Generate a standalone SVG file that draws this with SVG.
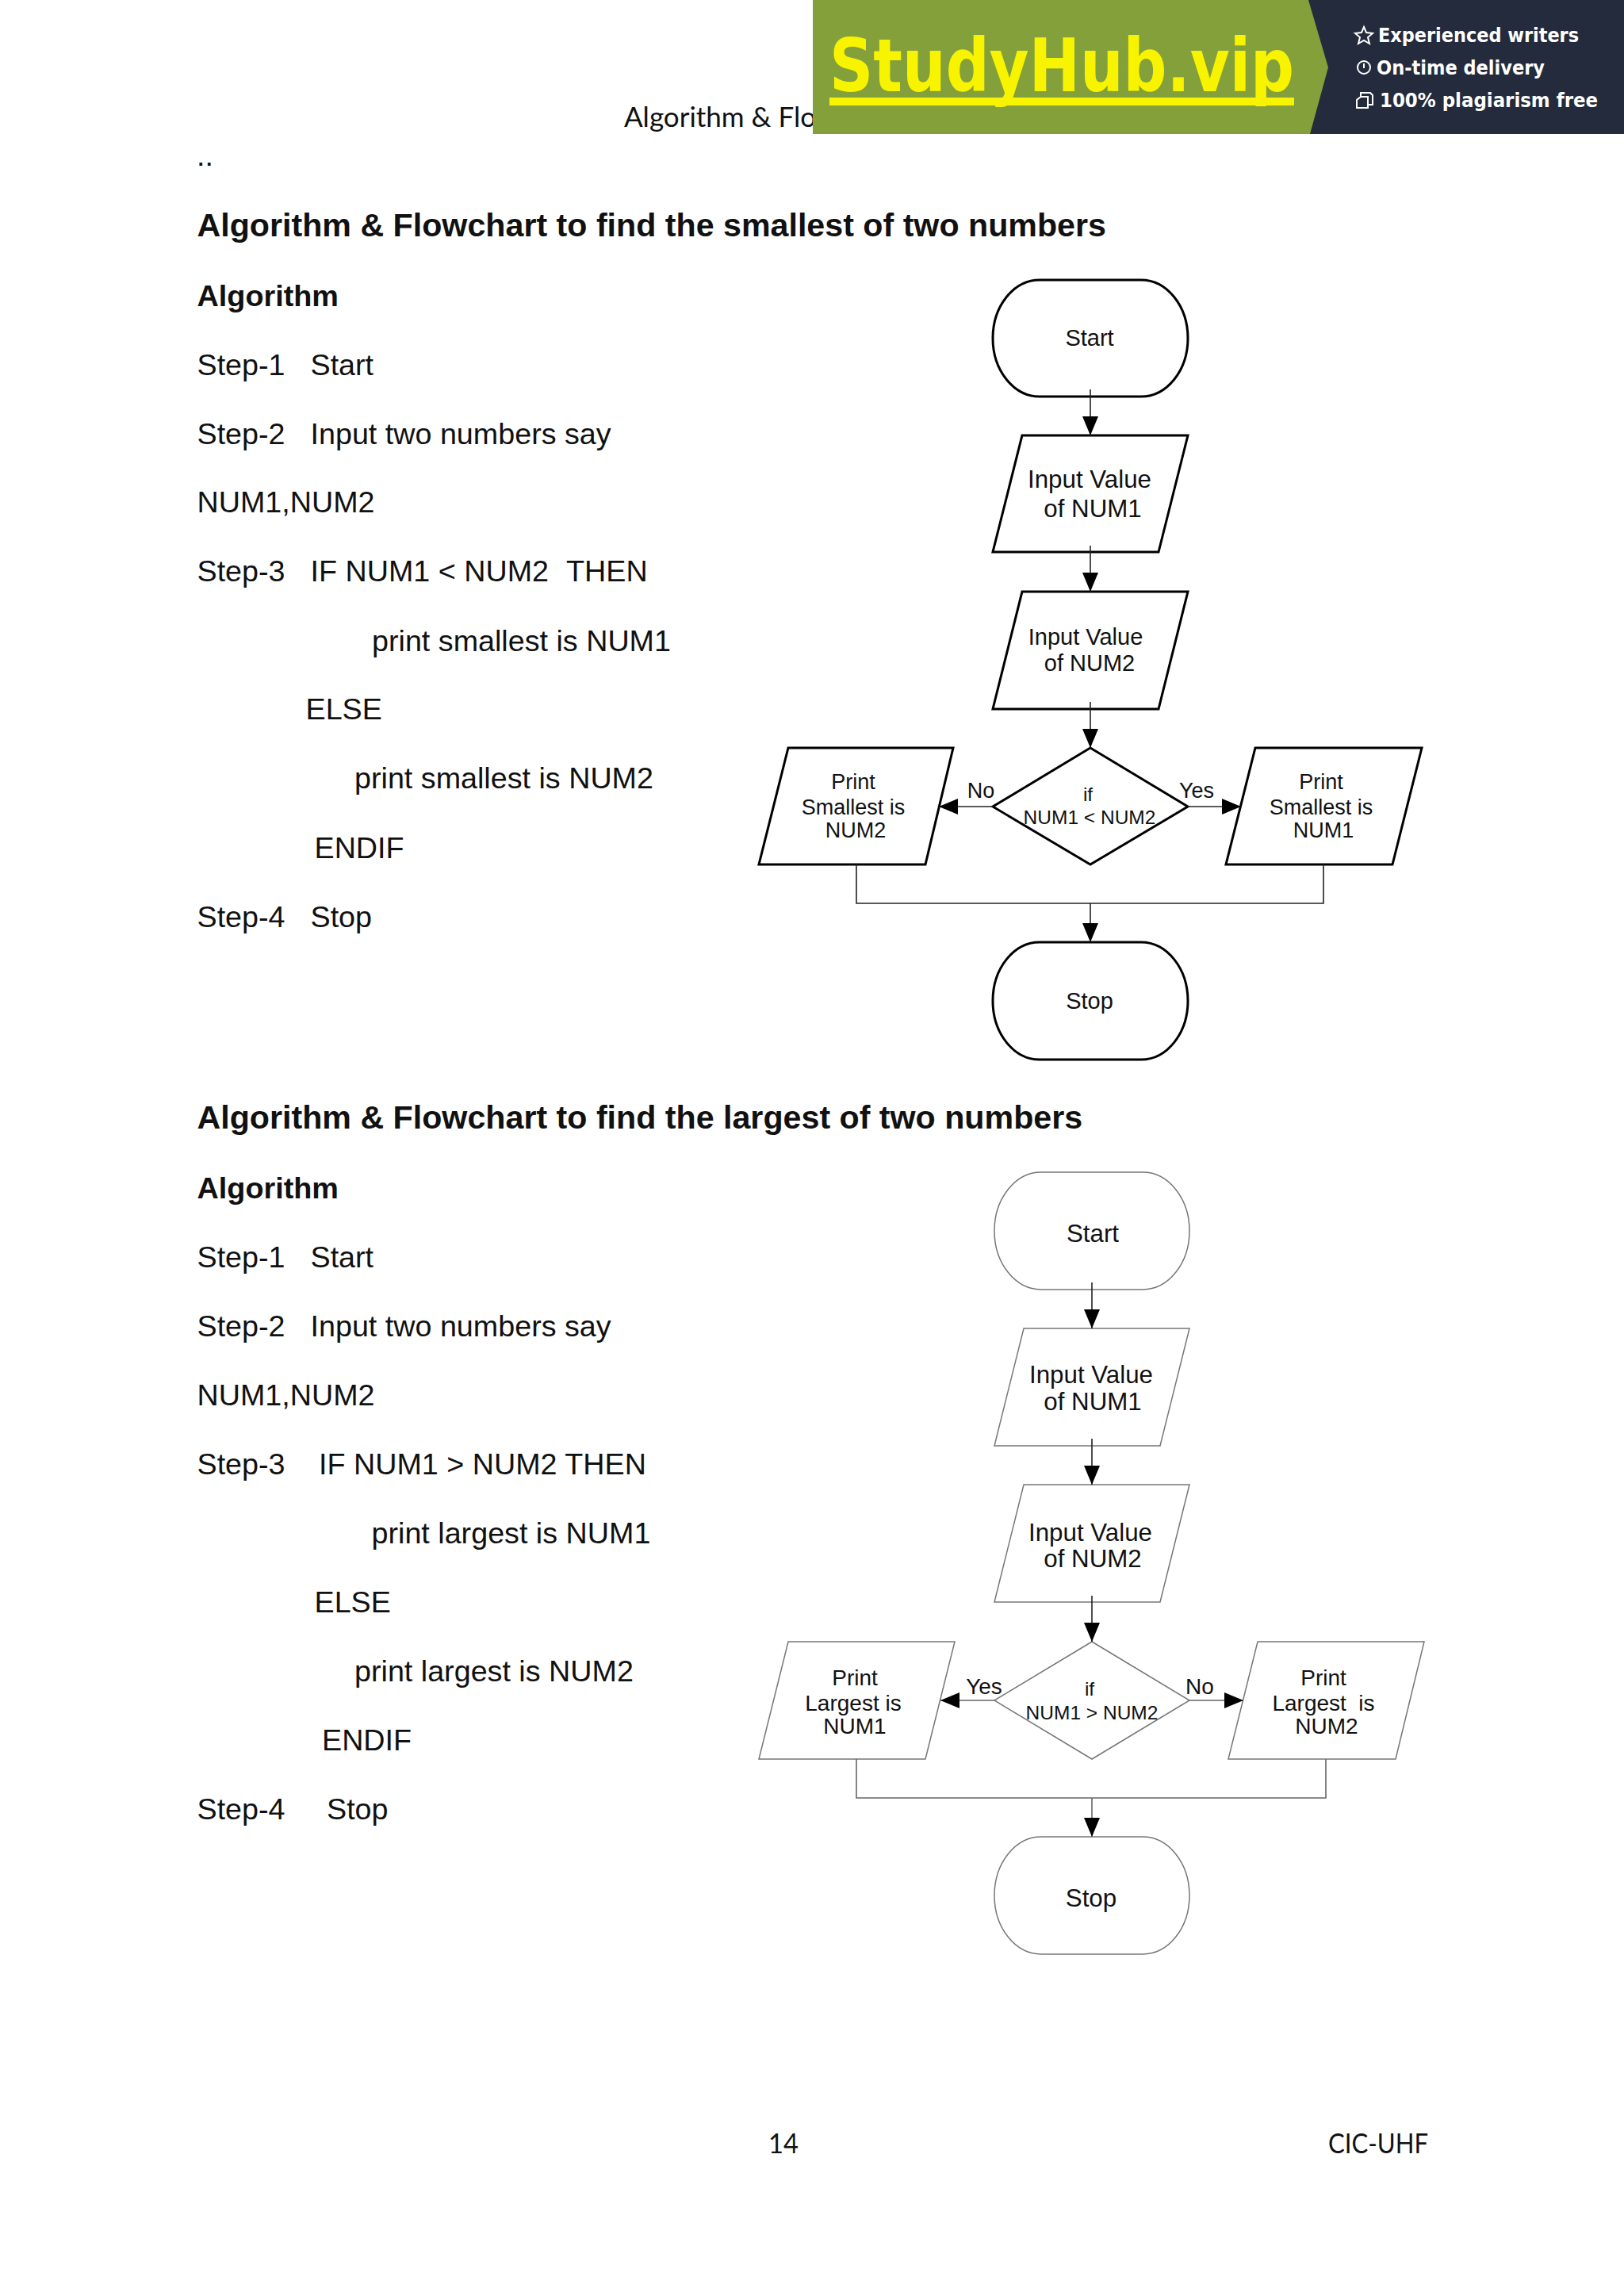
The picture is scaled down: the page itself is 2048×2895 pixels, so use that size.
<svg xmlns="http://www.w3.org/2000/svg" width="2048" height="2895" viewBox="0 0 2048 2895">
<style>
text{font-family:"Liberation Sans",Arial,sans-serif;fill:#111}
.h{font-size:41.2px;font-weight:700}
.b{font-size:37.7px}
.bb{font-size:37.8px;font-weight:700}
.c{font-family:Lato,"Open Sans",sans-serif;font-size:35px}
.n{font-size:29px;text-anchor:middle}
.s{font-size:27px;text-anchor:middle}
.d{font-size:24.5px;text-anchor:middle}
.n2{font-size:31.3px;text-anchor:middle}
.s2{font-size:28px;text-anchor:middle}
.k1{fill:#fff;stroke:#000;stroke-width:3}
.k2{fill:#fff;stroke:#777;stroke-width:1.5}
.l1{fill:none;stroke:#222;stroke-width:1.6}
.l2{fill:none;stroke:#666;stroke-width:1.6}
.w{fill:#fff;font-family:"DejaVu Sans",sans-serif;font-weight:700;font-size:24px}
.i{fill:none;stroke:#fff;stroke-width:2}
</style>
<defs>
<marker id="a" markerUnits="userSpaceOnUse" markerWidth="24" markerHeight="20" refX="24" refY="10" orient="auto"><path d="M0 0L24 10L0 20Z" fill="#000"/></marker>
</defs>
<rect width="2048" height="2895" fill="#fff"/>

<text class="c" x="787" y="160">Algorithm &amp; Flo</text>
<g id="banner">
<rect x="1025" y="0" width="1023" height="169" fill="#84a03a"/>
<path d="M1650 0H2048V169H1652L1675 85Z" fill="#232b3c"/>
<text x="1046" y="115" font-size="93" textLength="586" lengthAdjust="spacingAndGlyphs" style="font-family:'DejaVu Sans',sans-serif;font-weight:700;fill:#f8f400">StudyHub.vip</text>
<rect x="1046" y="123" width="586" height="10" fill="#f8f400"/>
<path class="i" d="M1720 34l3 7 8 1-6 5 2 8-7-4-7 4 2-8-6-5 8-1z"/>
<circle class="i" cx="1720" cy="85" r="8"/><path class="i" d="M1720 80v6"/>
<path class="i" d="M1716 122h9v14h-14v-10zM1716 122v-5h12l3 3v12h-6"/>
<text class="w" x="1738" y="53" textLength="253" lengthAdjust="spacingAndGlyphs">Experienced writers</text>
<text class="w" x="1736" y="94" textLength="212" lengthAdjust="spacingAndGlyphs">On-time delivery</text>
<text class="w" x="1740" y="135" textLength="275" lengthAdjust="spacingAndGlyphs">100% plagiarism free</text>
</g>

<g id="text-top">
<text class="b" x="248" y="209">..</text>
<text class="h" x="248.500" y="298">Algorithm &amp; Flowchart to find the smallest of two numbers</text>
<text class="bb" x="248.500" y="386">Algorithm</text>
<text class="b" y="473"><tspan x="248.500">Step-1</tspan><tspan x="391.500">Start</tspan></text>
<text class="b" y="560"><tspan x="248.500">Step-2</tspan><tspan x="391.500">Input two numbers say</tspan></text>
<text class="b" x="248.500" y="646">NUM1,NUM2</text>
<text class="b" y="733"><tspan x="248.500">Step-3</tspan><tspan x="391.500">IF NUM1 &lt; NUM2</tspan><tspan x="714">THEN</tspan></text>
<text class="b" x="469" y="821">print smallest is NUM1</text>
<text class="b" x="385.500" y="907">ELSE</text>
<text class="b" x="447" y="994">print smallest is NUM2</text>
<text class="b" x="396.500" y="1082">ENDIF</text>
<text class="b" y="1169"><tspan x="248.500">Step-4</tspan><tspan x="391.500">Stop</tspan></text>
</g>
<g id="text-bottom">
<text class="h" x="248.500" y="1423">Algorithm &amp; Flowchart to find the largest of two numbers</text>
<text class="bb" x="248.500" y="1511">Algorithm</text>
<text class="b" y="1598"><tspan x="248.500">Step-1</tspan><tspan x="391.500">Start</tspan></text>
<text class="b" y="1685"><tspan x="248.500">Step-2</tspan><tspan x="391.500">Input two numbers say</tspan></text>
<text class="b" x="248.500" y="1772">NUM1,NUM2</text>
<text class="b" y="1859"><tspan x="248.500">Step-3</tspan><tspan x="402">IF NUM1 &gt; NUM2 THEN</tspan></text>
<text class="b" x="468.500" y="1946">print largest is NUM1</text>
<text class="b" x="396.500" y="2033">ELSE</text>
<text class="b" x="447" y="2120">print largest is NUM2</text>
<text class="b" x="406" y="2207">ENDIF</text>
<text class="b" y="2294"><tspan x="248.500">Step-4</tspan><tspan x="412">Stop</tspan></text>
</g>
<text class="c" x="969" y="2715" textLength="38" lengthAdjust="spacingAndGlyphs">14</text>
<text class="c" x="1675" y="2715" textLength="126" lengthAdjust="spacingAndGlyphs">CIC-UHF</text>

<g id="c1-start"><path class="k1" d="M1311 353H1439A59 73.500 0 0 1 1439 500H1311A59 73.500 0 0 1 1311 353Z"/><text class="n" x="1374" y="436">Start</text></g>
<g id="c1-in1"><path class="k1" d="M1289 549H1498L1461 696H1252Z"/><text class="n2" x="1374" y="615">Input Value</text><text class="n2" x="1378" y="652">of NUM1</text></g>
<g id="c1-in2"><path class="k1" d="M1289 746H1498L1461 894H1252Z"/><text class="n" x="1369" y="813">Input Value</text><text class="n" x="1374" y="846">of NUM2</text></g>
<g id="c1-dec"><path class="k1" d="M1375 943L1498 1017L1375 1090L1252 1017Z"/><text class="d" x="1372" y="1010">if</text><text class="d" x="1374" y="1039">NUM1 &lt; NUM2</text></g>
<g id="c1-left"><path class="k1" d="M994 943H1202L1167 1090H957Z"/><text class="s" x="1076" y="995">Print</text><text class="s" x="1076" y="1027">Smallest is</text><text class="s" x="1079" y="1056">NUM2</text></g>
<g id="c1-right"><path class="k1" d="M1583 943H1793L1756 1090H1546Z"/><text class="s" x="1666" y="995">Print</text><text class="s" x="1666" y="1027">Smallest is</text><text class="s" x="1669" y="1056">NUM1</text></g>
<g id="c1-stop"><path class="k1" d="M1311 1188H1439A59 74 0 0 1 1439 1336H1311A59 74 0 0 1 1311 1188Z"/><text class="n" x="1374" y="1272">Stop</text></g>
<g id="c1-conn">
<path class="l1" marker-end="url(#a)" d="M1375 491V549"/>
<path class="l1" marker-end="url(#a)" d="M1375 688V746"/>
<path class="l1" marker-end="url(#a)" d="M1375 885V943"/>
<path class="l1" marker-end="url(#a)" d="M1252 1017H1184"/>
<path class="l1" marker-end="url(#a)" d="M1498 1017H1565"/>
<path class="l1" d="M1080 1090V1139H1669V1090"/>
<path class="l1" marker-end="url(#a)" d="M1375 1139V1188"/>
</g>
<text class="s" x="1237" y="1006">No</text>
<text class="s" x="1509" y="1006">Yes</text>

<g id="c2-start"><path class="k2" d="M1313 1478H1441A59 74 0 0 1 1441 1626H1313A59 74 0 0 1 1313 1478Z"/><text class="n2" x="1378" y="1566">Start</text></g>
<g id="c2-in1"><path class="k2" d="M1291 1675H1500L1463 1823H1254Z"/><text class="n2" x="1376" y="1744">Input Value</text><text class="n2" x="1378" y="1778">of NUM1</text></g>
<g id="c2-in2"><path class="k2" d="M1291 1872H1500L1463 2020H1254Z"/><text class="n2" x="1375" y="1943">Input Value</text><text class="n2" x="1378" y="1976">of NUM2</text></g>
<g id="c2-dec"><path class="k2" d="M1377 2070L1500 2144L1377 2218L1254 2144Z"/><text class="d" x="1374" y="2138">if</text><text class="d" x="1377" y="2168">NUM1 &gt; NUM2</text></g>
<g id="c2-left"><path class="k2" d="M994 2070H1204L1167 2218H957Z"/><text class="s2" x="1078" y="2125">Print</text><text class="s2" x="1076" y="2157">Largest is</text><text class="s2" x="1078" y="2186">NUM1</text></g>
<g id="c2-right"><path class="k2" d="M1586 2070H1796L1760 2218H1549Z"/><text class="s2" x="1669" y="2125">Print</text><text class="s2" x="1669" y="2157" xml:space="preserve">Largest  is</text><text class="s2" x="1673" y="2186">NUM2</text></g>
<g id="c2-stop"><path class="k2" d="M1313 2316H1441A59 74 0 0 1 1441 2464H1313A59 74 0 0 1 1313 2316Z"/><text class="n2" x="1376" y="2404">Stop</text></g>
<g id="c2-conn">
<path class="l1" marker-end="url(#a)" d="M1377 1617V1675"/>
<path class="l1" marker-end="url(#a)" d="M1377 1814V1872"/>
<path class="l1" marker-end="url(#a)" d="M1377 2012V2070"/>
<path class="l2" marker-end="url(#a)" d="M1254 2144H1186"/>
<path class="l2" marker-end="url(#a)" d="M1500 2144H1568"/>
<path class="l2" d="M1080 2218V2267H1672V2218"/>
<path class="l2" marker-end="url(#a)" d="M1377 2267V2316"/>
</g>
<text class="s2" x="1241" y="2136">Yes</text>
<text class="s2" x="1513" y="2136">No</text>
</svg>
